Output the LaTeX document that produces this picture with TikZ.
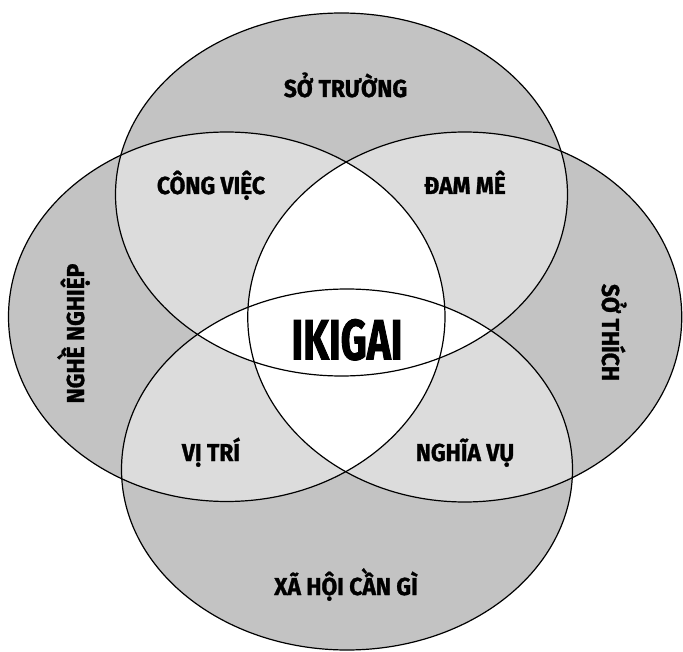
\documentclass[tikz,border=0pt]{standalone}
\usepackage{fontspec}
\usepackage{graphicx}
\setmainfont{Fira Sans}
\newfontfamily\lblfont{Fira Sans Bold}[FakeBold=1.2, FakeStretch=0.93]
\newfontfamily\ikfont{Fira Sans Bold}[FakeBold=1.6, FakeStretch=0.71]
\definecolor{outer}{RGB}{195,195,195}
\definecolor{pair}{RGB}{220,220,220}
\def\ellT{(341.5,194.5) ellipse [x radius=226pt, y radius=181.5pt]}
\def\ellB{(347,469.5) ellipse [x radius=225.5pt, y radius=180.5pt]}
\def\ellL{(226.75,316.75) ellipse [x radius=218.25pt, y radius=184.75pt]}
\def\ellR{(464.75,317) ellipse [x radius=217pt, y radius=185pt]}
\tikzset{
  lbl/.style={font=\lblfont\fontsize{24.5}{24.5}\selectfont, anchor=base, inner sep=0pt},
  ring/.style={draw=black, line width=1.2pt}
}
\begin{document}
\begin{tikzpicture}[x=1pt,y=-1pt]
\useasboundingbox (0,0) rectangle (683,652);
% single regions
\fill[outer] \ellT; \fill[outer] \ellB; \fill[outer] \ellL; \fill[outer] \ellR;
% pairwise overlaps
\begin{scope}\clip \ellT; \fill[pair] \ellL; \fill[pair] \ellR; \fill[pair] \ellB;\end{scope}
\begin{scope}\clip \ellL; \fill[pair] \ellR; \fill[pair] \ellB;\end{scope}
\begin{scope}\clip \ellR; \fill[pair] \ellB;\end{scope}
% triple overlaps
\begin{scope}\clip \ellT; \clip \ellL; \fill[white] \ellR; \fill[white] \ellB;\end{scope}
\begin{scope}\clip \ellT; \clip \ellR; \fill[white] \ellB;\end{scope}
\begin{scope}\clip \ellL; \clip \ellR; \fill[white] \ellB;\end{scope}
% outlines
\draw[ring] \ellT; \draw[ring] \ellB; \draw[ring] \ellL; \draw[ring] \ellR;
% labels
\node[lbl] (st) at (345.5,97) {SỞ TRƯỜNG};
\node[lbl] (cv) at (211,194) {CÔNG VIỆC};
\node[lbl] (dm) at (465,194) {ĐAM MÊ};
\node[lbl, rotate=90] (nn) at (84,333.5) {NGHỀ NGHIỆP};
\node[lbl, rotate=-90] (sth) at (602,332.5) {SỞ THÍCH};
\node[lbl] (vt) at (211,461) {VỊ TRÍ};
\node[lbl] (nv) at (465,461) {NGHĨA VỤ};
\node[lbl] (xh) at (346,595) {XÃ HỘI CẦN GÌ};
\node[anchor=base, inner sep=0pt, font=\ikfont\fontsize{57}{57}\selectfont] (ik) at (347,359.5) {IKIGAI};
\end{tikzpicture}
\end{document}
